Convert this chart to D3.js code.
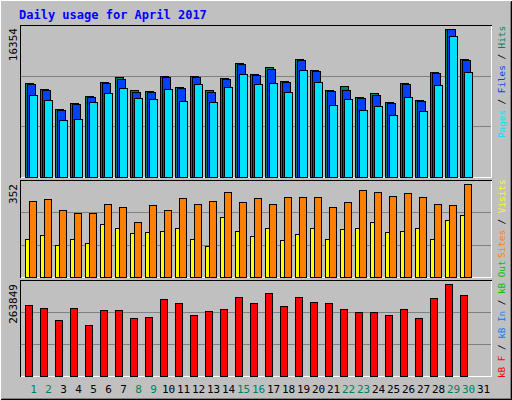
<!DOCTYPE html>
<html><head><meta charset="utf-8">
<script src="https://cdn.jsdelivr.net/npm/d3@7"></script>
<style>body{margin:0;background:#fff}svg{display:block}</style>
</head><body>
<svg id="c" width="512" height="400"></svg>
<script>
const days = d3.range(1,32);
const weekendDays = [1,2,8,9,15,16,22,23,29,30];
const hits  = [10360,9694,7474,8140,8917,10471,11026,9583,9472,11137,9916,11137,9583,10915,12580,11359,12136,10582,13024,11803,9583,10027,8806,9250,8251,10360,8473,11581,16354,13024];
const files = [10249,9583,7363,8029,8806,10360,10804,9361,9361,11026,9805,11026,9361,10804,12469,11248,11914,10471,12913,11692,9472,9583,8695,9028,8140,10249,8362,11470,16354,12913];
const pages = [9028,8473,6253,6364,8251,9250,9805,8695,8584,9694,8362,10249,8251,9916,11359,10249,10360,9361,11803,10471,7918,8584,7363,7807,6808,8806,7252,10138,15577,11581];
const sites = [287,295,253,241,241,275,264,207,272,253,298,275,287,321,283,298,275,302,302,302,264,283,329,321,306,318,302,275,272,352];
const visits= [145,157,119,142,126,199,184,165,168,172,187,142,115,226,172,153,187,138,161,184,145,180,184,207,168,172,187,145,214,233];
const kbytes= [202965,194267,159473,194267,144975,188468,188468,165272,168171,220362,208764,173970,185568,191367,226161,208764,237759,200066,226161,211664,208764,191367,182669,182669,173970,191367,165272,223262,263849,231960];
const maxLabels = ["16354","352","263849"];

const svg = d3.select("#c").attr("shape-rendering","crispEdges");
const F = "DejaVu Sans Mono, monospace";
svg.append("rect").attr("width",512).attr("height",400).attr("fill","#c0c0c0");
svg.append("path").attr("d","M0.5,399.5V0.5H511.5").attr("stroke","#fff").attr("fill","none");
svg.append("path").attr("d","M0.5,399.5H511.5V0.5").attr("stroke","#000").attr("fill","none");
svg.append("path").attr("d","M1.5,398.5H510.5V1.5").attr("stroke","#808080").attr("fill","none");

svg.append("text").attr("x",19).attr("y",19).attr("fill","#0000ff").attr("font-family",F)
  .attr("font-weight","bold").attr("font-size",12).text("Daily usage for April 2017");

const x = d3.scaleLinear().domain([1,31]).range([25,475]);

function panel(y0,y1,max,top){
  svg.append("path").attr("d",`M20.5,${y1+0.5}V${y0+0.5}H491.5`).attr("stroke","#000").attr("fill","none");
  svg.append("path").attr("d",`M20.5,${y1+0.5}H491.5V${y0+0.5}`).attr("stroke","#fff").attr("fill","none");
  const y = d3.scaleLinear().domain([0,max]).range([y1-0.5,top]);
  const h = y1-y0;
  [1/3,2/3].forEach(f=>{
    const gy = Math.round(y1 - h*f)+0.5;
    svg.append("line").attr("x1",21).attr("x2",491).attr("y1",gy).attr("y2",gy).attr("stroke","#808080");
  });
  return y;
}
function bars(data,y,off,w,color){
  svg.append("g").selectAll("rect").data(data).join("rect")
    .attr("x",(d,i)=>x(i+1)+off+0.5).attr("width",w)
    .attr("y",d=>Math.round(y(d))+0.5).attr("height",d=>Math.round(y(0))-Math.round(y(d)))
    .attr("fill",color).attr("stroke","#000");
}
const y1 = panel(25,177,16354,29.3);
bars(hits,y1,0,8,"#00805c");
bars(files,y1,2,8,"#0040ff");
bars(pages,y1,4,8,"#00e0ff");
const y2 = panel(180,277,352,184.3);
bars(sites,y2,4,7,"#ff8000");
bars(visits,y2,0,4,"#ffff00");
const y3 = panel(280,376,263849,284.3);
bars(kbytes,y3,0,7,"#ff0000");

[[maxLabels[0],28],[maxLabels[1],184],[maxLabels[2],284]].forEach(([t,yy])=>{
  svg.append("text").attr("transform",`translate(17,${yy}) rotate(-90)`).attr("text-anchor","end")
   .attr("font-family",F).attr("font-size",11).attr("fill","#000").text(t);
});
function legend(yBottom,parts){
  const t = svg.append("text").attr("transform",`translate(505,${yBottom}) rotate(-90)`)
   .attr("font-family",F).attr("font-size",9.3);
  parts.forEach(([s,c])=>t.append("tspan").attr("fill",c).text(s));
}
legend(138,[["Pages","#00e0ff"],[" / ","#000"],["Files","#0040ff"],[" / ","#000"],["Hits","#00805c"]]);
legend(258,[["Sites","#ff8000"],[" / ","#000"],["Visits","#ffff00"]]);
legend(378,[["kB F","#ff0000"],[" / ","#000"],["kB In","#0080ff"],[" / ","#000"],["kB Out","#00c000"]]);

svg.append("g").selectAll("text").data(days).join("text")
  .attr("x",d=>x(d)+8.5).attr("y",393).attr("text-anchor","middle")
  .attr("font-family",F).attr("font-size",11)
  .attr("fill",d=>weekendDays.includes(d)?"#00805c":"#000").text(d=>d);
</script>
</body></html>
